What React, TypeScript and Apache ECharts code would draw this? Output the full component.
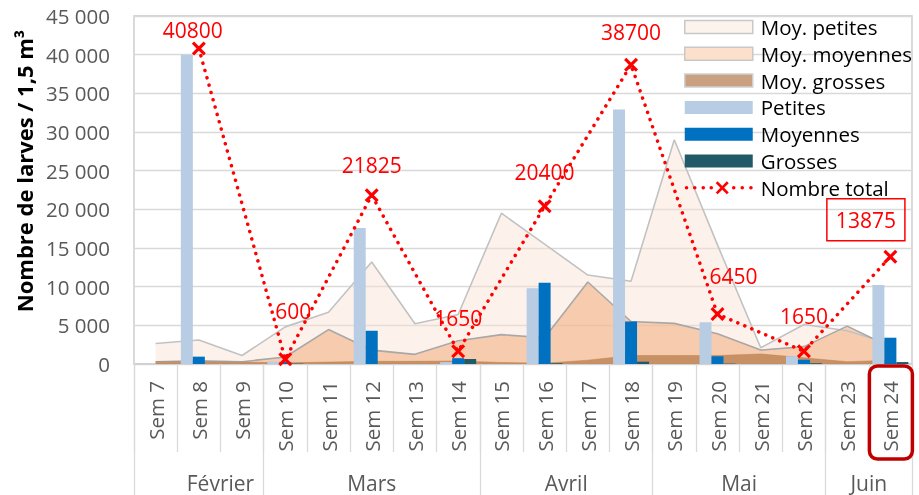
import React, { useEffect, useRef } from 'react';
import * as echarts from 'echarts';

const weeks = ['Sem 7', 'Sem 8', 'Sem 9', 'Sem 10', 'Sem 11', 'Sem 12', 'Sem 13', 'Sem 14', 'Sem 15',
  'Sem 16', 'Sem 17', 'Sem 18', 'Sem 19', 'Sem 20', 'Sem 21', 'Sem 22', 'Sem 23', 'Sem 24'];

const moyPetites = [2650, 3100, 1100, 4800, 6700, 13200, 5200, 6400, 19500, 15500, 11500, 10700, 29000, 15400, 2100, 5100, 4300, 2600];
const moyMoyennes = [300, 400, 300, 900, 4450, 1800, 1250, 3000, 3800, 3400, 10600, 5500, 5250, 3900, 1800, 2250, 4900, 2200];
const moyGrosses = [300, 300, 250, 150, 250, 350, 350, 400, 200, 100, 500, 1100, 1100, 1100, 1300, 800, 300, 500];

const petites = [null, 40000, null, 300, null, 17600, null, 250, null, 9800, null, 32900, null, 5400, null, 1000, null, 10200];
const moyennes = [null, 950, null, 250, null, 4300, null, 750, null, 10500, null, 5500, null, 1000, null, 550, null, 3400];
const grosses = [null, 0, null, 50, null, 0, null, 650, null, 100, null, 300, null, 50, null, 100, null, 250];
const totals = [null, 40800, null, 600, null, 21825, null, 1650, null, 20400, null, 38700, null, 6450, null, 1650, null, 13875];

const yTicks = { min: 0, max: 45000, interval: 5000 };

const monthNames = ['Février', 'Mars', 'Avril', 'Mai', 'Juin'];
const monthSpans = [[1, 3], [3, 8], [8, 12], [12, 16], [16, 18]];
const highlightWeek = 'Sem 24';
const boxedIndex = 17;

// label nudges (style only)
const labelOffsets: Record<number, [number, number]> = {
  1: [-6, 15],
  3: [8, -15],
  5: [0, 3],
  9: [0, -1],
  13: [16, -5],
  15: [0, -2],
  17: [-24.5, 6],
};

const FONT = '"Open Sans", "Noto Sans", sans-serif';
const GRAY_TXT = '#595959';
const RED = '#ff0000';

const C_PET_FILL = 'rgba(250,226,210,0.45)';
const C_MOY_FILL = 'rgba(244,177,131,0.6)';
const C_GRO_FILL = 'rgba(180,120,70,0.7)';

function dot(cx: number, cy: number, r: number) {
  return `M${cx - r},${cy}A${r},${r} 0 1,0 ${cx + r},${cy}A${r},${r} 0 1,0 ${cx - r},${cy}Z`;
}
function cross(a: number, s: number, t: number) {
  const h = s / 2;
  return `M${a},${t}L${a + t},0L${a + h},${h - t}L${a + s - t},0L${a + s},${t}L${a + h + t},${h}` +
    `L${a + s},${s - t}L${a + s - t},${s}L${a + h},${h + t}L${a + t},${s}L${a},${s - t}L${a + h - t},${h}Z`;
}

export default function App() {
  const ref = useRef<HTMLDivElement>(null);
  useEffect(() => {
    const chart = echarts.init(ref.current!, null, { renderer: 'svg' });
    const xSym = 'path://M0,1.6L1.6,0L5,3.4L8.4,0L10,1.6L6.6,5L10,8.4L8.4,10L5,6.6L1.6,10L0,8.4L3.4,5Z';
    const legendLineIcon = 'path://' + [1.8, 10, 18.5, 26.5, 49, 57.5, 66.2].map((x) => dot(x, 6.5, 1.8)).join('') + cross(31, 13, 1.9);
    const fmt = (v: number) => String(v).replace(/\B(?=(\d{3})+(?!\d))/g, ' ');

    const monthTicks = [0, ...monthSpans.map((s) => s[1])];
    const monthCenters = monthSpans.map((s) => (s[0] + s[1]) / 2);

    const totalData = totals.map((v, i) => {
      if (v == null) return null;
      const off = labelOffsets[i] || [0, 0];
      const lab: any = { offset: off };
      if (i === boxedIndex) {
        lab.borderColor = RED;
        lab.borderWidth = 1.5;
        lab.padding = [10, 9];
      }
      return { value: v, label: lab };
    });

    const areaSeries = (name: string, data: number[], fill: string, line: string, lw: number) => ({
      name,
      type: 'line',
      data,
      symbol: 'none',
      z: 1,
      lineStyle: { color: line, width: lw },
      itemStyle: { color: fill },
      areaStyle: { color: fill, opacity: 1 },
      emphasis: { disabled: true },
    });

    const barSeries = (name: string, data: (number | null)[], color: string) => ({
      name,
      type: 'bar',
      data,
      z: 3,
      barWidth: 12,
      barGap: '0%',
      itemStyle: { color },
      emphasis: { disabled: true },
    });

    const option: any = {
      animation: false,
      textStyle: { fontFamily: FONT },
      grid: {
        left: 134, right: 7, top: 16, bottom: 131,
        show: true, borderColor: '#c6c6c6', borderWidth: 1.3, backgroundColor: 'transparent',
      },
      legend: {
        orient: 'vertical',
        left: 684,
        top: 14,
        padding: 0,
        itemWidth: 68,
        itemHeight: 13,
        itemGap: 0.8,
        selectedMode: false,
        textStyle: { fontFamily: FONT, fontSize: 20.5, color: '#000', lineHeight: 26, padding: [0, 0, 0, 3] },
        data: [
          { name: 'Moy. petites', icon: 'rect', itemStyle: { color: '#fdf3ed', borderColor: '#c8c8c8', borderWidth: 1.5 } },
          { name: 'Moy. moyennes', icon: 'rect', itemStyle: { color: '#fde0cb', borderColor: '#c8c8c8', borderWidth: 1.5 } },
          { name: 'Moy. grosses', icon: 'rect', itemStyle: { color: '#c9a080', borderColor: '#d0d0d0', borderWidth: 1.5 } },
          { name: 'Petites', icon: 'rect' },
          { name: 'Moyennes', icon: 'rect' },
          { name: 'Grosses', icon: 'rect' },
          { name: 'Nombre total', icon: legendLineIcon, itemStyle: { color: RED, borderWidth: 0 } },
        ],
      },
      xAxis: [
        {
          type: 'category',
          data: weeks,
          boundaryGap: true,
          position: 'bottom',
          offset: 0,
          axisLine: { show: true, lineStyle: { color: '#cfcfcf', width: 1.5 } },
          axisTick: { show: true, interval: 0, length: 88, lineStyle: { color: '#d9d9d9', width: 1.3 } },
          axisLabel: { interval: 0, rotate: 90, margin: 17, fontFamily: FONT, fontSize: 20.5, color: GRAY_TXT },
          splitLine: { show: false },
        },
        {
          type: 'value',
          min: 0,
          max: 18,
          position: 'bottom',
          offset: 0,
          axisLine: { show: false },
          splitLine: { show: false },
          axisTick: { show: true, customValues: monthTicks, length: 131, lineStyle: { color: '#d9d9d9', width: 1.3 } },
          axisLabel: {
            customValues: monthCenters,
            margin: 108,
            fontFamily: FONT,
            fontSize: 21,
            color: GRAY_TXT,
            formatter: (v: number) => {
              const idx = monthCenters.findIndex((c) => Math.abs(c - v) < 1e-6);
              return idx >= 0 ? monthNames[idx] : '';
            },
          },
        },
      ],
      yAxis: {
        type: 'value',
        min: yTicks.min,
        max: yTicks.max,
        interval: yTicks.interval,
        name: 'Nombre de larves / 1,5 m³',
        nameLocation: 'middle',
        nameRotate: 90,
        nameGap: 94,
        nameTextStyle: { fontFamily: FONT, fontWeight: 'bold', fontSize: 22, color: '#000', padding: [0, 0, 0, 38] },
        axisLine: { show: false },
        axisTick: { show: false },
        axisLabel: { margin: 24, fontFamily: FONT, fontSize: 20.5, color: GRAY_TXT, formatter: fmt },
        splitLine: { show: true, lineStyle: { color: '#d9d9d9', width: 1.3 } },
      },
      series: [
        areaSeries('Moy. petites', moyPetites, C_PET_FILL, '#c2c2c2', 1.6),
        areaSeries('Moy. moyennes', moyMoyennes, C_MOY_FILL, '#a8a8a8', 1.6),
        areaSeries('Moy. grosses', moyGrosses, C_GRO_FILL, 'rgba(180,120,70,0.5)', 0.8),
        barSeries('Petites', petites, '#b8cce4'),
        barSeries('Moyennes', moyennes, '#0070c0'),
        barSeries('Grosses', grosses, '#215968'),
        {
          name: 'Nombre total',
          type: 'line',
          data: totalData,
          connectNulls: true,
          symbol: xSym,
          symbolSize: 14,
          itemStyle: { color: RED },
          lineStyle: { color: RED, width: 3.5, type: [0.1, 7.5], cap: 'round' },
          label: {
            show: true,
            position: 'top',
            distance: 15,
            fontFamily: FONT,
            fontSize: 21,
            lineHeight: 22,
            color: RED,
          },
          emphasis: { disabled: true },
          z: 5,
        },
      ],
    };

    chart.setOption(option);
    const px = chart.convertToPixel({ xAxisIndex: 0 }, highlightWeek) as number;
    chart.setOption({
      graphic: [
        {
          type: 'rect',
          z: 100,
          shape: { x: px - 21, y: 366, width: 43, height: 93, r: 8 },
          style: { fill: 'none', stroke: '#c00000', lineWidth: 3.5 },
        },
      ],
    });
    return () => chart.dispose();
  }, []);
  return <div ref={ref} style={{ position: 'fixed', left: 0, top: 0, width: 919, height: 495 }} />;
}
